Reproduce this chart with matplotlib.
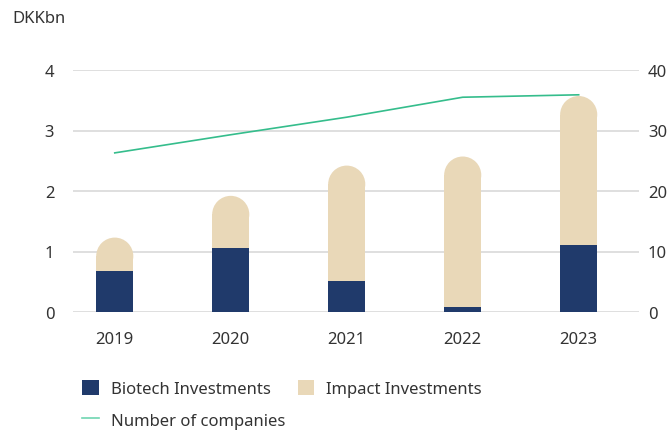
import matplotlib
matplotlib.use("Agg")
import matplotlib.pyplot as plt
from matplotlib.patches import Ellipse, Patch
from matplotlib.lines import Line2D

# data
years = ["2019", "2020", "2021", "2022", "2023"]
biotech = [0.68, 1.05, 0.52, 0.09, 1.10]
total = [1.23, 1.92, 2.42, 2.57, 3.57]
companies = [26.3, 29.3, 32.2, 35.5, 35.9]

# colours
navy = "#203a6b"
beige = "#e9d8b8"
green = "#35bd8c"
grid_col = "#dcdcdc"
text_col = "#333333"

plt.rcParams["font.family"] = ["Noto Sans", "DejaVu Sans"]
plt.rcParams["font.size"] = 12

W, H = 671, 431
fig = plt.figure(figsize=(W / 100, H / 100), dpi=100)

# axes box in pixels: x 73..639, y 71..313 (top..bottom)
ax_left, ax_right, ax_top, ax_bot = 73, 639, 71, 313
ax = fig.add_axes([ax_left / W, (H - ax_bot) / H,
                   (ax_right - ax_left) / W, (ax_bot - ax_top) / H])

x = list(range(len(years)))
xlim = (-0.36, 4.52)
ylim = (0, 4)
ax.set_xlim(*xlim)
ax.set_ylim(*ylim)

bar_w = 0.32
# radius of the round top converted to y data units (circular in pixels)
px_per_x = (ax_right - ax_left) / (xlim[1] - xlim[0])
px_per_y = (ax_bot - ax_top) / (ylim[1] - ylim[0])
r_y = (bar_w / 2) * px_per_x / px_per_y

impact = [t - b for t, b in zip(total, biotech)]

# impact part: rectangle up to the centre of the round cap, then the cap
ax.bar(x, [i - r_y for i in impact], bottom=biotech, width=bar_w,
       color=beige, linewidth=0, zorder=2)
for xi, t in zip(x, total):
    ax.add_patch(Ellipse((xi, t - r_y), bar_w, 2 * r_y,
                         facecolor=beige, edgecolor="none", zorder=2))
# biotech part on top in z-order so the cap never covers it
ax.bar(x, biotech, width=bar_w, color=navy, linewidth=0, zorder=3)

# grid and axis styling
ax.set_yticks([0, 1, 2, 3, 4])
ax.grid(axis="y", color=grid_col, linewidth=1.3, zorder=0)
ax.set_axisbelow(True)
for s in ax.spines.values():
    s.set_visible(False)
ax.set_xticks(x)
ax.set_xticklabels(years)
ax.tick_params(axis="y", length=0, pad=13.5, labelcolor=text_col, labelsize=12)
ax.tick_params(axis="x", length=0, pad=14, labelcolor=text_col, labelsize=12)

# secondary axis for number of companies
ax2 = ax.twinx()
ax2.set_ylim(0, 40)
ax2.set_yticks([0, 10, 20, 30, 40])
ax2.plot(x, companies, color=green, linewidth=1.2, zorder=4)
for s in ax2.spines.values():
    s.set_visible(False)
ax2.tick_params(axis="y", length=0, pad=6.5, labelcolor=text_col, labelsize=12)

# unit label
fig.text(12 / W, 1 - 19 / H, "DKKbn", color=text_col, fontsize=12,
         ha="left", va="center")

# legend (handle order gives the two-row layout)
handles = [
    Patch(facecolor=navy, edgecolor="none", label="Biotech Investments"),
    Line2D([], [], color="#6fd6b2", linewidth=1.2, label="Number of companies"),
    Patch(facecolor=beige, edgecolor="none", label="Impact Investments"),
]
fig.legend(handles=handles, ncol=2, loc="upper left",
           bbox_to_anchor=(67 / W, 1 - 366 / H), frameon=False,
           handlelength=1.0, handleheight=1.0, handletextpad=0.72,
           columnspacing=0.75, labelspacing=0.85, fontsize=12,
           labelcolor=text_col, borderpad=0.4)

fig.savefig("out.png", dpi=100)
